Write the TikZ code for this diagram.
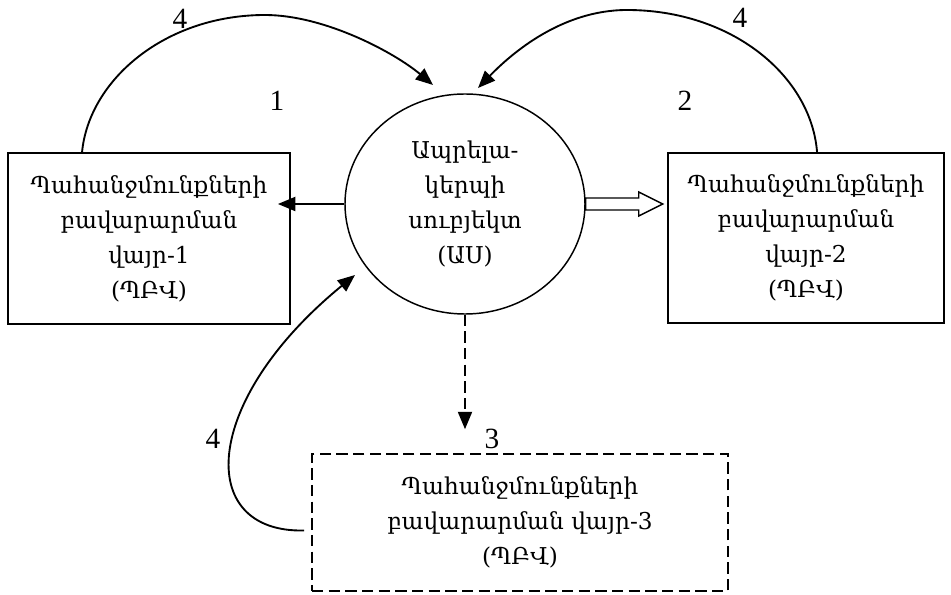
\documentclass[tikz,border=0pt]{standalone}
\usepackage{fontspec}
\setmainfont{DejaVu Serif}
\newfontfamily\numfont{Liberation Serif}
\usetikzlibrary{shapes.geometric,arrows.meta}
\begin{document}
\begin{tikzpicture}[x=0.75pt,y=-0.75pt,
  lw/.style={line width=1.4pt},
  txt/.style={font=\fontsize{17.4}{26.25}\selectfont, align=center},
  boxnode/.style={draw, lw, txt, inner sep=0pt},
  arr/.style={lw, -{Triangle[length=13pt,width=10.5pt]}},
  dashline/.style={dash pattern=on 8.5pt off 4pt},
  num/.style={font=\numfont\fontsize{22}{24}\selectfont, inner sep=0pt}]
\useasboundingbox (0,0) rectangle (951,595);
\node[boxnode, minimum width=211.5pt, minimum height=128.25pt] (b1) at (149,238.5)
  {Պահանջմունքների\\բավարարման\\վայր-1\\(ՊԲՎ)};
\node[boxnode, minimum width=207pt, minimum height=127.5pt] (b2) at (806,238)
  {Պահանջմունքների\\բավարարման\\վայր-2\\(ՊԲՎ)};
\node[draw, line width=1.1pt, ellipse, txt, inner sep=0pt, minimum width=180pt, minimum height=165pt] (ell) at (465,204)
  {Ապրելա-\\կերպի\\սուբյեկտ\\(ԱՍ)};
\node[boxnode, line width=1.2pt, dashline, minimum width=312pt, minimum height=102.75pt] (b3) at (520,522.5)
  {Պահանջմունքների\\բավարարման վայր-3\\(ՊԲՎ)};
\coordinate (t1) at (433,85);
\coordinate (t2) at (478,88);
\coordinate (t3) at (355,275);
\draw[arr] ([xshift=56.25pt]b1.north west) .. controls (89,80) and (165,15) .. (265,15)
  .. controls (325,15) and (395,53) .. (t1);
\draw[arr] ([xshift=112.5pt]b2.north west) .. controls (811,76) and (732,10) .. (627,10)
  .. controls (562,10) and (512,53) .. (t2);
\draw[arr] ([shift={(-7,8)}]b3.west) .. controls (195,533) and (201,401) .. (t3);
\draw[arr, shorten >=-9.75pt] (ell.west) -- (b1.east |- ell.west);
\draw[arr, dashline, shorten >=18pt] (ell.south) -- (ell.south |- b3.north);
\draw[line width=1.1pt, fill=white] (ell.east) ++(0,-6) -- ++(53,0) -- ++(0,-6) -- ++(24,12)
  -- ++(-24,12) -- ++(0,-6) -- ++(-53,0) -- cycle;
\node[num] (n4a) at (180,19) {4};
\node[num] (n1) at (277,101) {1};
\node[num] (n4b) at (740,18) {4};
\node[num] (n2) at (685,101) {2};
\node[num] (n3) at (492,439) {3};
\node[num] (n4c) at (213,439) {4};
\end{tikzpicture}
\end{document}
